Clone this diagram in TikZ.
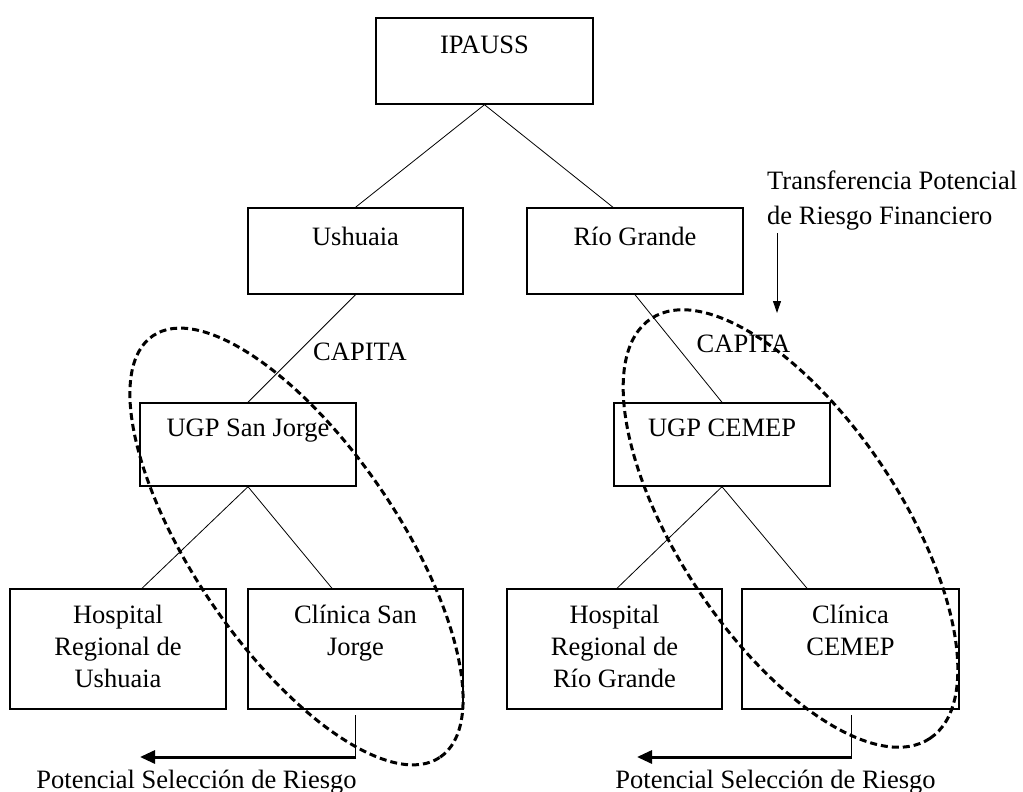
\documentclass[tikz,border=0pt]{standalone}
\usepackage{fontspec}
\setmainfont{Liberation Serif}
\usetikzlibrary{arrows.meta}
\begin{document}
\begin{tikzpicture}[x=1pt,y=-1pt,
  box/.style={draw, line width=1.4pt, inner sep=0pt},
  txt/.style={font=\fontsize{26.5}{32}\selectfont, inner sep=0pt, align=center},
  conn/.style={line width=0.8pt},
  ellip/.style={line width=3pt, dash pattern=on 7pt off 4pt},
  bigarrow/.style={line width=3pt, -{Triangle[length=15pt,width=13pt]}},
  smallarrow/.style={line width=1pt, -{Triangle[length=12pt,width=8pt]}}]
\useasboundingbox (0,0) rectangle (1023,792);
% boxes
\node[box, minimum width=217pt, minimum height=86pt] (ipauss) at (484.5,61) {};
\node[box, minimum width=215pt, minimum height=86pt] (ush) at (355.5,251) {};
\node[box, minimum width=216pt, minimum height=86pt] (rio) at (635,251) {};
\node[box, minimum width=216pt, minimum height=83pt] (ugpsj) at (248,444.5) {};
\node[box, minimum width=216pt, minimum height=83pt] (ugpc) at (722,444.5) {};
\node[box, minimum width=216pt, minimum height=120pt] (hru) at (118,649) {};
\node[box, minimum width=215pt, minimum height=120pt] (csj) at (355.5,649) {};
\node[box, minimum width=215pt, minimum height=120pt] (hrr) at (614.5,649) {};
\node[box, minimum width=217pt, minimum height=120pt] (cc) at (850.5,649) {};
% box texts
\node[txt, anchor=north] (t1) at ([yshift=-18pt]ipauss.north) {IPAUSS};
\node[txt, anchor=north] (t2) at ([yshift=-20pt]ush.north) {Ushuaia};
\node[txt, anchor=north] (t3) at ([yshift=-20pt]rio.north) {Río Grande};
\node[txt, anchor=north] (t4) at ([yshift=-16pt]ugpsj.north) {UGP San Jorge};
\node[txt, anchor=north] (t5) at ([yshift=-16pt]ugpc.north) {UGP CEMEP};
\node[txt, anchor=north] (t6) at ([yshift=-17pt]hru.north) {Hospital\\Regional de\\Ushuaia};
\node[txt, anchor=north] (t7) at ([yshift=-17pt]csj.north) {Clínica San\\Jorge};
\node[txt, anchor=north] (t8) at ([yshift=-17pt]hrr.north) {Hospital\\Regional de\\Río Grande};
\node[txt, anchor=north] (t9) at ([yshift=-17pt]cc.north) {Clínica\\CEMEP};
% connectors
\draw[conn] (ipauss.south) -- (ush.north);
\draw[conn] (ipauss.south) -- ([xshift=-22pt]rio.north);
\draw[conn] (ush.south) -- (ugpsj.north);
\draw[conn] (rio.south) -- (ugpc.north);
\draw[conn] (ugpsj.south) -- ([xshift=24pt]hru.north);
\draw[conn] (ugpsj.south) -- ([xshift=-23.5pt]csj.north);
\draw[conn] (ugpc.south) -- ([xshift=2.5pt]hrr.north);
\draw[conn] (ugpc.south) -- ([xshift=-43.5pt]cc.north);
% CAPITA labels
\node[txt, anchor=base] (cap1) at (360,360) {CAPITA};
\node[txt, anchor=base] (cap2) at (743.5,352) {CAPITA};
% transfer text and arrow
\node[txt, anchor=north west, align=left] (trans) at (767,171) {Transferencia Potencial\\[3pt]de Riesgo Financiero};
\coordinate (ta) at (777,233);
\coordinate (tb) at (777,313);
\draw[smallarrow] (ta) -- (tb);
% selection arrows
\coordinate (sjs) at (355.5,715);
\coordinate (sjt) at (355.5,757);
\coordinate (sje) at (140,757);
\draw[conn, line width=1pt] (sjs) -- (sjt);
\draw[bigarrow] ([xshift=0.5pt]sjt) -- (sje);
\coordinate (ccs) at (851,715);
\coordinate (cct) at (851,757);
\coordinate (cce) at (637,757);
\draw[conn, line width=1pt] (ccs) -- (cct);
\draw[bigarrow] ([xshift=0.5pt]cct) -- (cce);
\node[txt, anchor=base] (ps1) at (196.5,788) {Potencial Selección de Riesgo};
\node[txt, anchor=base] (ps2) at (775.5,788) {Potencial Selección de Riesgo};
% ellipses
\draw[ellip, rotate around={-55.7:(296.5,546.5)}] (296.5,546.5) ellipse [x radius=255pt, y radius=102pt];
\draw[ellip, rotate around={-56.4:(790.5,528.5)}] (790.5,528.5) ellipse [x radius=252pt, y radius=111pt];
\end{tikzpicture}
\end{document}
